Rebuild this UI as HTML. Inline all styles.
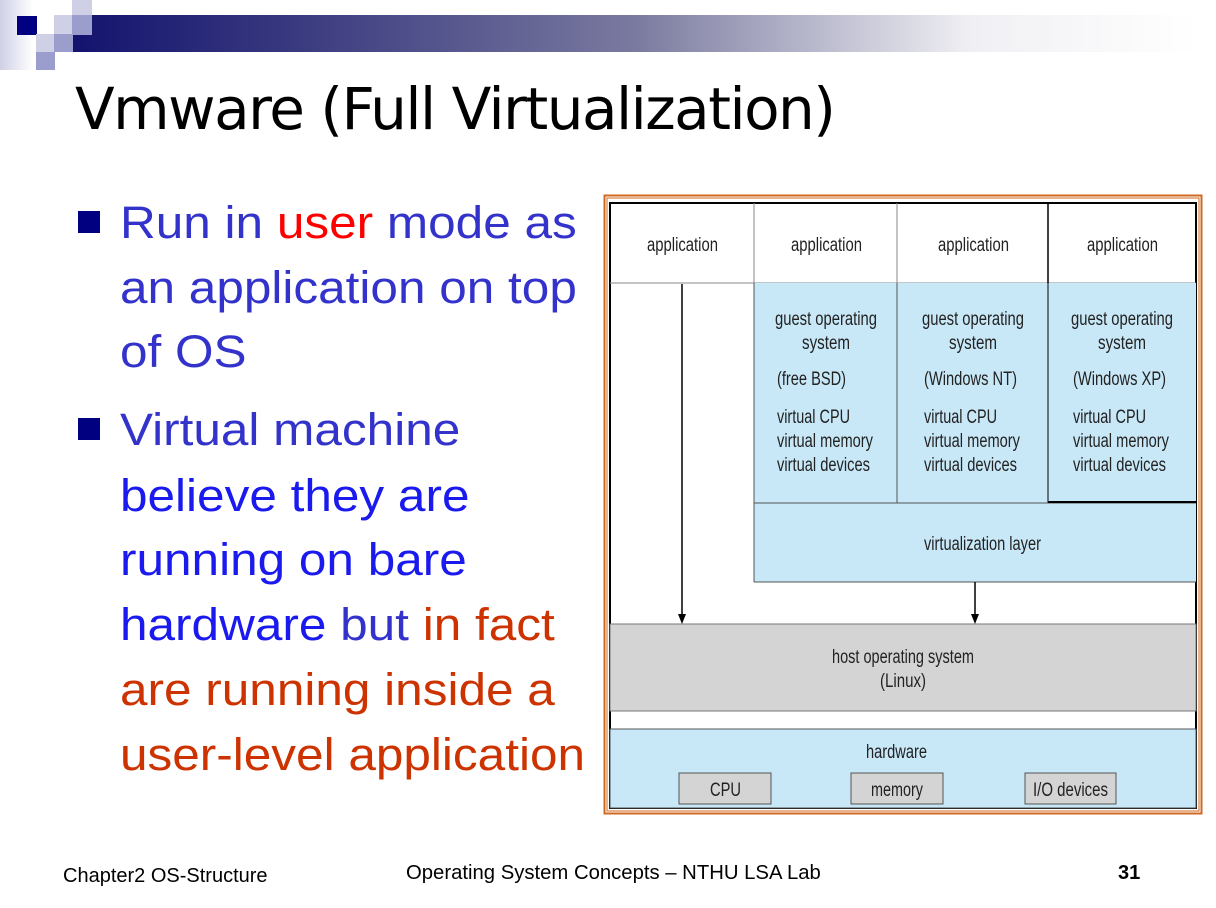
<!DOCTYPE html>
<html><head><meta charset="utf-8"><style>
body{margin:0;width:1216px;height:908px;background:#fff;position:relative;overflow:hidden;font-family:"Liberation Sans",sans-serif}
.a{position:absolute}
.t{position:absolute;left:120px;font-size:45px;white-space:nowrap;line-height:1;transform:scaleX(1.1);transform-origin:0 0;margin-top:-1px}
.b{position:absolute;left:78px;width:22px;height:22px;background:#000080}
</style></head><body>
<div class="a" style="left:0;top:0;width:33px;height:70px;background:linear-gradient(90deg,#cfd0e6,#fff)"></div>
<div class="a" style="left:73px;top:15px;width:1124px;height:37px;background:linear-gradient(90deg,#13136f,#3a3a80 20%,#7a7aa0 50%,#f0f0f4 80%,#fff)"></div>
<div class="a" style="left:17px;top:16px;width:20px;height:19px;background:#000080"></div>
<div class="a" style="left:72px;top:0;width:20px;height:15px;background:#cfd0e6"></div>
<div class="a" style="left:54px;top:15px;width:18px;height:20px;background:#cfd0e6"></div>
<div class="a" style="left:72px;top:15px;width:20px;height:20px;background:#9b9dcc"></div>
<div class="a" style="left:36px;top:34px;width:18px;height:18px;background:#cfd0e6"></div>
<div class="a" style="left:54px;top:34px;width:19px;height:18px;background:#9b9dcc"></div>
<div class="a" style="left:36px;top:52px;width:19px;height:18px;background:#9b9dcc"></div>

<div class="a" style="left:75px;top:80px;font-size:58px;line-height:1;color:#000;font-family:'DejaVu Sans','Liberation Sans',sans-serif;letter-spacing:-1.5px">Vmware (Full Virtualization)</div>

<div class="b" style="top:211px"></div>
<div class="b" style="top:418px"></div>
<div class="t" style="top:201px;color:#3333cc">Run in <span style="color:#f00">user</span> mode as</div>
<div class="t" style="top:266px;color:#3333cc">an application on top</div>
<div class="t" style="top:330px;color:#3333cc">of OS</div>
<div class="t" style="top:408px;color:#3333cc">Virtual machine</div>
<div class="t" style="top:474px;color:#1a1aee">believe they are</div>
<div class="t" style="top:538px;color:#1a1aee">running on bare</div>
<div class="t" style="top:603px;color:#1a1aee">hardware <span style="color:#3333cc">but</span> <span style="color:#cc3300">in fact</span></div>
<div class="t" style="top:668px;color:#cc3300">are running inside a</div>
<div class="t" style="top:733px;color:#cc3300">user-level application</div>

<svg class="a" style="left:0;top:0" width="1216" height="908">
<rect x="604.5" y="195.5" width="597" height="618" fill="none" stroke="#d06a20" stroke-width="2"/>
<rect x="607" y="198" width="592" height="613" fill="none" stroke="#d06a20" stroke-width="1"/>
<rect x="610" y="203" width="586" height="605" fill="#fff" stroke="#000" stroke-width="2"/>
<g stroke="#888" stroke-width="1" fill="none">
<line x1="610" y1="283" x2="1196" y2="283"/>
<line x1="754" y1="203" x2="754" y2="283"/>
<line x1="897" y1="203" x2="897" y2="283"/>
</g>
<line x1="1048" y1="203" x2="1048" y2="283" stroke="#000" stroke-width="1.5"/>
<rect x="754" y="283" width="442" height="299" fill="#c8e8f8"/>
<g stroke="#555" fill="none">
<line x1="754" y1="283" x2="754" y2="582"/>
<line x1="897" y1="283" x2="897" y2="503"/>
<line x1="1048" y1="283" x2="1048" y2="503" stroke="#000"/>
<line x1="754" y1="503" x2="1196" y2="503" stroke="#555"/>
<line x1="1048" y1="502" x2="1196" y2="502" stroke="#000" stroke-width="2"/>
<line x1="754" y1="582" x2="1196" y2="582"/>
</g>
<rect x="610" y="624" width="586" height="87" fill="#d4d4d4" stroke="#777"/>
<rect x="610" y="729" width="586" height="79" fill="#c8e8f8" stroke="#555"/>
<g fill="#d4d4d4" stroke="#555">
<rect x="679" y="773" width="92" height="31"/>
<rect x="851" y="773" width="92" height="31"/>
<rect x="1025" y="773" width="91" height="31"/>
</g>
<g stroke="#000" stroke-width="1.5"><line x1="682" y1="284" x2="682" y2="616"/><line x1="975" y1="582" x2="975" y2="616"/></g>
<g fill="#000"><path d="M678,614 L686,614 L682,624Z"/><path d="M971,614 L979,614 L975,624Z"/></g>
<g font-family="'Liberation Sans',sans-serif" font-size="19" fill="#222">
<text x="647" y="251" textLength="71" lengthAdjust="spacingAndGlyphs">application</text>
<text x="791" y="251" textLength="71" lengthAdjust="spacingAndGlyphs">application</text>
<text x="938" y="251" textLength="71" lengthAdjust="spacingAndGlyphs">application</text>
<text x="1087" y="251" textLength="71" lengthAdjust="spacingAndGlyphs">application</text>
<text x="775" y="325" textLength="102" lengthAdjust="spacingAndGlyphs">guest operating</text><text x="802" y="349" textLength="48" lengthAdjust="spacingAndGlyphs">system</text>
<text x="922" y="325" textLength="102" lengthAdjust="spacingAndGlyphs">guest operating</text><text x="949" y="349" textLength="48" lengthAdjust="spacingAndGlyphs">system</text>
<text x="1071" y="325" textLength="102" lengthAdjust="spacingAndGlyphs">guest operating</text><text x="1098" y="349" textLength="48" lengthAdjust="spacingAndGlyphs">system</text>
<text x="924" y="550" textLength="117" lengthAdjust="spacingAndGlyphs">virtualization layer</text>
<text x="832" y="663" textLength="142" lengthAdjust="spacingAndGlyphs">host operating system</text><text x="880" y="687" textLength="46" lengthAdjust="spacingAndGlyphs">(Linux)</text>
<text x="866" y="758" textLength="61" lengthAdjust="spacingAndGlyphs">hardware</text>
<text x="710" y="796" textLength="31" lengthAdjust="spacingAndGlyphs">CPU</text>
<text x="871" y="796" textLength="52" lengthAdjust="spacingAndGlyphs">memory</text>
<text x="1033" y="796" textLength="75" lengthAdjust="spacingAndGlyphs">I/O devices</text>
<text x="777" y="385" textLength="69" lengthAdjust="spacingAndGlyphs">(free BSD)</text><text x="777" y="423" textLength="73" lengthAdjust="spacingAndGlyphs">virtual CPU</text><text x="777" y="447" textLength="96" lengthAdjust="spacingAndGlyphs">virtual memory</text><text x="777" y="471" textLength="93" lengthAdjust="spacingAndGlyphs">virtual devices</text>
<text x="924" y="385" textLength="93" lengthAdjust="spacingAndGlyphs">(Windows NT)</text><text x="924" y="423" textLength="73" lengthAdjust="spacingAndGlyphs">virtual CPU</text><text x="924" y="447" textLength="96" lengthAdjust="spacingAndGlyphs">virtual memory</text><text x="924" y="471" textLength="93" lengthAdjust="spacingAndGlyphs">virtual devices</text>
<text x="1073" y="385" textLength="93" lengthAdjust="spacingAndGlyphs">(Windows XP)</text><text x="1073" y="423" textLength="73" lengthAdjust="spacingAndGlyphs">virtual CPU</text><text x="1073" y="447" textLength="96" lengthAdjust="spacingAndGlyphs">virtual memory</text><text x="1073" y="471" textLength="93" lengthAdjust="spacingAndGlyphs">virtual devices</text>
</g>
</svg>

<div class="a" style="left:63px;top:865px;font-size:20px">Chapter2 OS-Structure</div>
<div class="a" style="left:406px;top:862px;font-size:20.3px">Operating System Concepts – NTHU LSA Lab</div>
<div class="a" style="left:1118px;top:862px;font-size:20px;font-weight:bold">31</div>
</body></html>
